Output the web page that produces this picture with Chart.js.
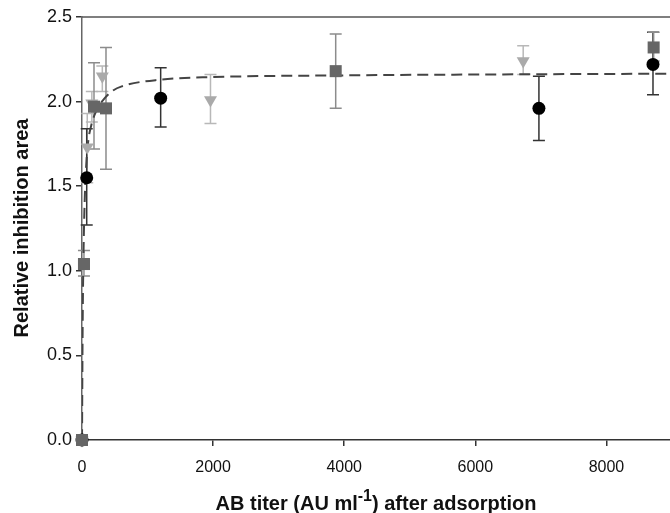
<!DOCTYPE html>
<html>
<head>
<meta charset="utf-8">
<script src="https://cdn.jsdelivr.net/npm/chart.js@4.4.1/dist/chart.umd.min.js"></script>
<style>
  html, body { margin: 0; padding: 0; background: #fff; overflow: hidden; }
  #wrap { width: 672px; height: 513px; }
</style>
</head>
<body>
<div id="wrap"><canvas id="titerChart" width="672" height="513"></canvas></div>
<script>
// ---- data: mean inhibition area with error bar bounds ----
const circleX = [0, 72, 1200, 6970, 8710];
const circleY = [0, 1.55, 2.02, 1.96, 2.22];
const circleLo = [0, 1.27, 1.85, 1.77, 2.04];
const circleHi = [0, 1.84, 2.20, 2.15, 2.41];

const squareX = [0, 30, 183, 366, 3870, 8720];
const squareY = [0, 1.04, 1.97, 1.96, 2.18, 2.32];
const squareLo = [0, 0.97, 1.72, 1.60, 1.96, 2.24];
const squareHi = [0, 1.12, 2.23, 2.32, 2.40, 2.41];

const triX = [0, 80, 150, 310, 1960, 6730];
const triY = [0, 1.73, 1.99, 2.15, 2.01, 2.24];
const triLo = [0, 1.52, 1.88, 2.06, 1.87, 2.16];
const triHi = [0, 1.93, 2.06, 2.21, 2.16, 2.33];

// saturation fit, points
const fitX = [0, 10, 20, 40, 72, 96, 148, 224, 325, 453, 606, 1200, 2000, 4000, 6000, 9000];
const fitY = [0, 0.68, 1.03, 1.40, 1.67, 1.77, 1.87, 1.95, 2.01, 2.06, 2.09, 2.13, 2.145, 2.155, 2.16, 2.165];

const xTicks = [0, 2000, 4000, 6000, 8000];
const yTicks = [0, 0.5, 1.0, 1.5, 2.0, 2.5];

const FONT = '"Liberation Sans", Arial, sans-serif';

const toPoints = (xs, ys) => xs.map((x, i) => ({ x: x, y: ys[i] }));

// error bars + top frame + axis titles
const extrasPlugin = {
    id: 'extras',
    beforeDatasetsDraw(chart) {
        const ctx = chart.ctx;
        const xs = chart.scales.x, ys = chart.scales.y;
        const groups = [
            { x: triX, lo: triLo, hi: triHi, color: '#b8b8b8' },
            { x: circleX, lo: circleLo, hi: circleHi, color: '#333333' },
            { x: squareX, lo: squareLo, hi: squareHi, color: '#8c8c8c' }
        ];
        ctx.save();
        ctx.lineWidth = 1.5;
        groups.forEach(g => {
            ctx.strokeStyle = g.color;
            g.x.forEach((xv, i) => {
                if (g.hi[i] === g.lo[i]) return;
                const px = xs.getPixelForValue(xv);
                const top = ys.getPixelForValue(g.hi[i]);
                const bot = ys.getPixelForValue(g.lo[i]);
                ctx.beginPath();
                ctx.moveTo(px, top); ctx.lineTo(px, bot);
                ctx.moveTo(px - 6, top); ctx.lineTo(px + 6, top);
                ctx.moveTo(px - 6, bot); ctx.lineTo(px + 6, bot);
                ctx.stroke();
            });
        });
        ctx.restore();
    },
    afterDraw(chart) {
        const ctx = chart.ctx;
        const area = chart.chartArea;
        ctx.save();
        // top frame line
        ctx.strokeStyle = '#555';
        ctx.lineWidth = 1.5;
        ctx.beginPath();
        ctx.moveTo(area.left, area.top);
        ctx.lineTo(area.right, area.top);
        ctx.stroke();

        // y title
        ctx.fillStyle = '#111';
        ctx.font = 'bold 20px ' + FONT;
        ctx.textAlign = 'center';
        ctx.textBaseline = 'middle';
        ctx.translate(22, 228);
        ctx.rotate(-Math.PI / 2);
        ctx.fillText('Relative inhibition area', 0, 0);
        ctx.setTransform(1, 0, 0, 1, 0, 0);

        // x title with superscript
        const p1 = 'AB titer (AU ml', sup = '-1', p3 = ') after adsorption';
        const mainFont = 'bold 20px ' + FONT, supFont = 'bold 16px ' + FONT;
        ctx.font = mainFont;
        const w1 = ctx.measureText(p1).width, w3 = ctx.measureText(p3).width;
        ctx.font = supFont;
        const w2 = ctx.measureText(sup).width;
        let x = (area.left + 670) / 2 - (w1 + w2 + w3) / 2;
        const base = 510;
        ctx.textAlign = 'left';
        ctx.textBaseline = 'alphabetic';
        ctx.font = mainFont;
        ctx.fillText(p1, x, base);
        x += w1;
        ctx.font = supFont;
        ctx.fillText(sup, x, base - 9);
        x += w2;
        ctx.font = mainFont;
        ctx.fillText(p3, x, base);
        ctx.restore();
    }
};

const ctx = document.getElementById('titerChart').getContext('2d');
new Chart(ctx, {
    type: 'scatter',
    data: {
        datasets: [
            {
                label: 'squares',
                data: toPoints(squareX, squareY),
                pointStyle: 'rect',
                pointRadius: 8.5,
                backgroundColor: '#666',
                borderColor: '#666',
                borderWidth: 0,
                clip: false,
                order: 1
            },
            {
                label: 'circles',
                data: toPoints(circleX, circleY),
                pointStyle: 'circle',
                pointRadius: 6.5,
                backgroundColor: '#000',
                borderColor: '#000',
                borderWidth: 0,
                clip: false,
                order: 2
            },
            {
                label: 'triangles',
                data: toPoints(triX, triY),
                pointStyle: 'triangle',
                rotation: 180,
                pointRadius: 7.5,
                backgroundColor: '#aaa',
                borderColor: '#aaa',
                borderWidth: 0,
                clip: false,
                order: 3
            },
            {
                type: 'line',
                label: 'fit',
                data: toPoints(fitX, fitY),
                borderColor: '#444',
                borderWidth: 2,
                borderDash: [11, 6],
                pointRadius: 0,
                cubicInterpolationMode: 'monotone',
                fill: false,
                order: 4
            }
        ]
    },
    options: {
        responsive: false,
        animation: false,
        layout: { autoPadding: false, padding: { top: 17, left: 0, right: 0, bottom: 0 } },
        plugins: {
            legend: { display: false },
            tooltip: { enabled: false }
        },
        scales: {
            x: {
                type: 'linear',
                min: 0,
                max: 9000,
                afterFit: s => { s.height = 73; s.paddingLeft = 0; s.paddingRight = 0; },
                afterBuildTicks: s => { s.ticks = xTicks.map(v => ({ value: v })); },
                grid: { drawOnChartArea: false, drawTicks: true, tickLength: 6, color: '#333', lineWidth: 1.5 },
                border: { display: true, color: '#333', width: 1.5 },
                ticks: {
                    color: '#111',
                    padding: 12,
                    maxRotation: 0,
                    font: { family: FONT, size: 16 },
                    callback: v => String(v)
                }
            },
            y: {
                type: 'linear',
                min: 0,
                max: 2.5,
                afterFit: s => { s.width = 82; s.paddingTop = 0; s.paddingBottom = 0; },
                afterBuildTicks: s => { s.ticks = yTicks.map(v => ({ value: v })); },
                grid: { drawOnChartArea: false, drawTicks: true, tickLength: 6, color: '#333', lineWidth: 1.5 },
                border: { display: true, color: '#666', width: 1.5 },
                ticks: {
                    color: '#111',
                    padding: 4,
                    font: { family: FONT, size: 18 },
                    callback: v => Number(v).toFixed(1)
                }
            }
        }
    },
    plugins: [extrasPlugin]
});
</script>
</body>
</html>
